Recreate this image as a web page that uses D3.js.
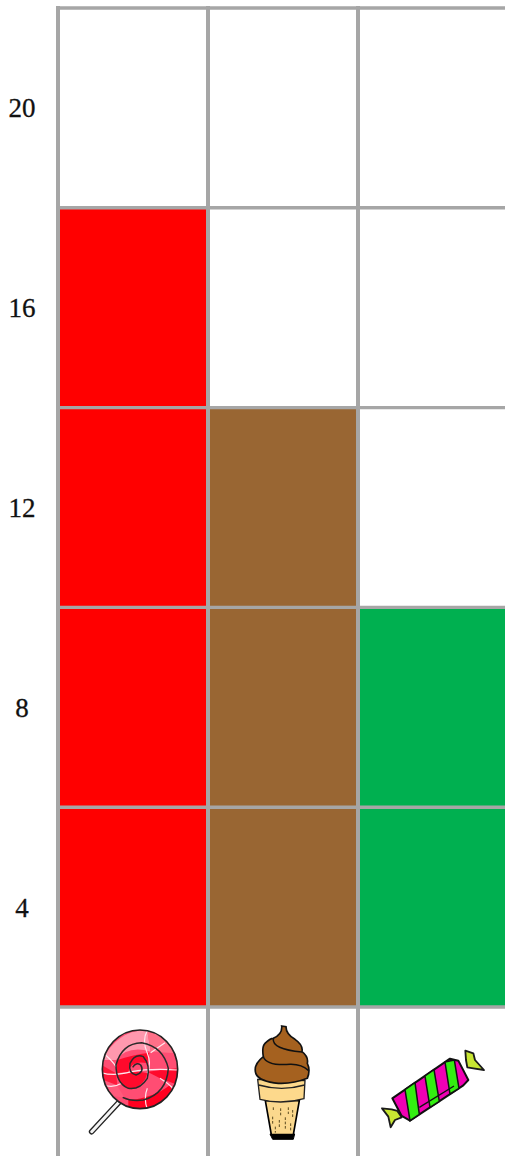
<!DOCTYPE html>
<html>
<head>
<meta charset="utf-8">
<style>
  html, body { margin: 0; padding: 0; background: #fff; overflow: hidden; }
  svg { display: block; }
  text { font-family: "Liberation Serif", serif; font-size: 27px; fill: #111; stroke: #111; stroke-width: 0.3px; }
</style>
<script src="https://cdn.jsdelivr.net/npm/d3@7"></script>
</head>
<body>
<svg id="chart" width="505" height="1156"></svg>
<script>
'use strict';

/* chart values */
const categories = ['lollipop', 'icecream', 'candy'];
const values = [16, 12, 8];
const tickLabels = [20, 16, 12, 8, 4];

const colors = ['#ff0000', '#996633', '#00b050'];
const gridColor = '#a6a6a6';

let svg = d3.select('#chart');

let x = d3.scaleBand().domain(categories).range([58, 508]);
let y = d3.scaleBand().domain(tickLabels).range([8, 1007]);

/* one filled cell for every tick the category reaches */
categories.forEach(function(c, i){
  let reached = tickLabels.filter(function(t){ return t <= values[i]; });
  svg.append('g').selectAll('rect')
    .data(reached)
    .enter().append('rect')
      .attr('x', x(c))
      .attr('y', function(d){ return y(d); })
      .attr('width', x.bandwidth())
      .attr('height', y.bandwidth())
      .attr('fill', colors[i]);
});

/* grid lines */
let grid = svg.append('g').attr('stroke', gridColor);
grid.selectAll('line.h')
  .data(tickLabels.map(function(t){ return y(t); }).concat([y.range()[1]]))
  .enter().append('line')
    .attr('class', 'h')
    .attr('x1', 56).attr('x2', 505)
    .attr('y1', function(d){ return d; })
    .attr('y2', function(d){ return d; })
    .attr('stroke-width', 3.4);
grid.selectAll('line.v')
  .data(categories.map(function(c){ return x(c); }))
  .enter().append('line')
    .attr('class', 'v')
    .attr('x1', function(d){ return d; })
    .attr('x2', function(d){ return d; })
    .attr('y1', 6).attr('y2', 1156)
    .attr('stroke-width', 4);

/* tick labels */
svg.append('g').selectAll('text')
  .data(tickLabels)
  .enter().append('text')
    .attr('x', 22)
    .attr('y', function(d){ return y(d) + y.bandwidth() / 2; })
    .attr('dy', '0.35em')
    .attr('text-anchor', 'middle')
    .text(function(d){ return d; });

/* the icons under each column, drawn in a 450 unit box */
function iconBox(c){
  return svg.append('g')
    .attr('transform', 'translate(' + (x(c) + 2) + ',1010) scale(0.3333)');
}

function drawLollipop(g){
  g.append('path')
    .attr('d', 'M95,365 L185,268')
    .attr('stroke', '#222').attr('stroke-width', 17).attr('stroke-linecap', 'round');
  g.append('path')
    .attr('d', 'M95,365 L185,268')
    .attr('stroke', '#f4f4f4').attr('stroke-width', 9).attr('stroke-linecap', 'round');
  let clip = svg.append('clipPath').attr('id', 'lolly-clip');
  clip.append('ellipse').attr('cx', 240).attr('cy', 178).attr('rx', 113).attr('ry', 118);
  g.append('ellipse')
    .attr('cx', 240).attr('cy', 178).attr('rx', 113).attr('ry', 118)
    .attr('fill', '#ff4d73');
  let inner = g.append('g').attr('clip-path', 'url(#lolly-clip)');
  let patches = [
    ['M125,150 Q180,55 262,62 L272,125 Q205,105 168,150 Z', '#ff98ae'],
    ['M262,62 L340,90 L350,130 L272,125 Z', '#ff7088'],
    ['M172,150 Q215,135 268,128 L262,160 Q215,150 205,185 L168,190 Z', '#ff0a2c'],
    ['M125,165 L168,190 L172,225 L125,225 Z', '#ff1a3c'],
    ['M170,195 Q230,180 262,190 Q255,225 215,238 Q180,230 170,195 Z', '#ff0a2c'],
    ['M262,185 L350,175 L355,225 L300,205 Z', '#ff0a2c'],
    ['M205,270 Q280,265 330,225 L345,270 L270,305 L205,295 Z', '#ff0020'],
    ['M130,210 L170,225 L195,265 L150,255 Z', '#ff5a7c']
  ];
  inner.selectAll('path.patch')
    .data(patches)
    .enter().append('path')
      .attr('class', 'patch')
      .attr('d', function(d){ return d[0]; })
      .attr('fill', function(d){ return d[1]; });
  inner.selectAll('path.shine')
    .data([
      'M262,62 Q245,90 262,130 Q275,160 262,190',
      'M130,130 Q155,150 168,170',
      'M125,188 Q160,200 215,185 Q270,175 352,180',
      'M315,98 Q290,115 272,128',
      'M262,235 Q250,265 262,298',
      'M300,205 Q325,220 345,240',
      'M130,225 Q160,235 185,220'
    ])
    .enter().append('path')
      .attr('class', 'shine')
      .attr('d', function(d){ return d; })
      .attr('fill', 'none').attr('stroke', '#ffe8ee').attr('stroke-width', 3.5);
  g.append('path')
    .attr('d', 'M218,172 Q228,155 242,165 Q255,185 228,195 Q205,190 210,160 Q225,130 250,140 Q272,165 262,205 Q240,240 205,235 Q168,220 168,165 Q185,100 245,98 Q310,110 325,175 Q320,250 250,270 Q215,275 188,262')
    .attr('fill', 'none').attr('stroke', '#2a2a2a').attr('stroke-width', 4.5);
  g.append('ellipse')
    .attr('cx', 240).attr('cy', 178).attr('rx', 113).attr('ry', 118)
    .attr('fill', 'none').attr('stroke', '#222').attr('stroke-width', 5);
}

function drawIcecream(g){
  g.append('path')
    .attr('d', 'M180,372 L254,372 L250,388 L188,388 Z')
    .attr('fill', '#000').attr('stroke', '#000').attr('stroke-width', 3);
  g.append('path')
    .attr('d', 'M166,272 L268,272 L250,374 L184,374 Z')
    .attr('fill', '#fbd88d').attr('stroke', '#000').attr('stroke-width', 5);
  g.append('path')
    .attr('d', 'M190,292 V305 M212,295 V320 M235,292 V312 M248,300 V325 M188,320 V345 M208,330 V355 M226,322 V360 M242,340 V365 M196,350 V368')
    .attr('stroke', '#5a4a20').attr('stroke-width', 3).attr('stroke-dasharray', '8 5');
  g.append('path')
    .attr('d', 'M143,208 L285,212 L282,266 Q215,285 150,268 Z')
    .attr('fill', '#fdd98c').attr('stroke', '#222').attr('stroke-width', 4);
  g.append('path')
    .attr('d', 'M146,225 Q215,245 284,225')
    .attr('fill', 'none').attr('stroke', '#222').attr('stroke-width', 4);
  g.append('path')
    .attr('d', 'M215,48 L228,50 Q228,72 255,88 Q280,105 276,125 Q296,140 292,160 Q302,180 292,205 Q250,222 205,220 Q150,215 138,192 Q128,165 160,140 Q155,110 165,100 Q180,85 190,85 Q218,72 215,48 Z')
    .attr('fill', '#a5611f').attr('stroke', '#111').attr('stroke-width', 5);
  g.append('path')
    .attr('d', 'M190,85 Q185,118 276,126 M160,140 Q170,168 240,163 Q275,162 296,182')
    .attr('fill', 'none').attr('stroke', '#111').attr('stroke-width', 4.5);
}

function drawCandy(g){
  g.selectAll('path.wrap')
    .data([
      'M66,295 L95,298 L112,303 L125,322 L105,330 L92,352 L85,320 Z',
      'M316,122 L340,130 L345,150 L372,180 L340,175 L322,172 L318,150 Z'
    ])
    .enter().append('path')
      .attr('class', 'wrap')
      .attr('d', function(d){ return d; })
      .attr('fill', '#c8e632').attr('stroke', '#1a1a1a').attr('stroke-width', 5.5)
      .attr('stroke-linejoin', 'round');
  g.append('path')
    .attr('d', 'M97,265 L270,146 L295,152 L325,210 L310,226 L150,332 L125,318 Z')
    .attr('fill', '#f000b4').attr('stroke', '#111').attr('stroke-width', 6)
    .attr('stroke-linejoin', 'round');
  g.selectAll('path.stripe')
    .data([
      'M135,239 L165,218 L178,313 L150,332 Z',
      'M195,198 L222,179 L238,274 L210,292 Z',
      'M255,156 L283,150 L297,235 L270,252 Z'
    ])
    .enter().append('path')
      .attr('class', 'stripe')
      .attr('d', function(d){ return d; })
      .attr('fill', '#33ee11').attr('stroke', '#111').attr('stroke-width', 4.5);
  g.append('path')
    .attr('d', 'M178,292 L282,228')
    .attr('fill', 'none').attr('stroke', '#111').attr('stroke-width', 4);
}

drawLollipop(iconBox(categories[0]));
drawIcecream(iconBox(categories[1]));
drawCandy(iconBox(categories[2]));
</script>
</body>
</html>
